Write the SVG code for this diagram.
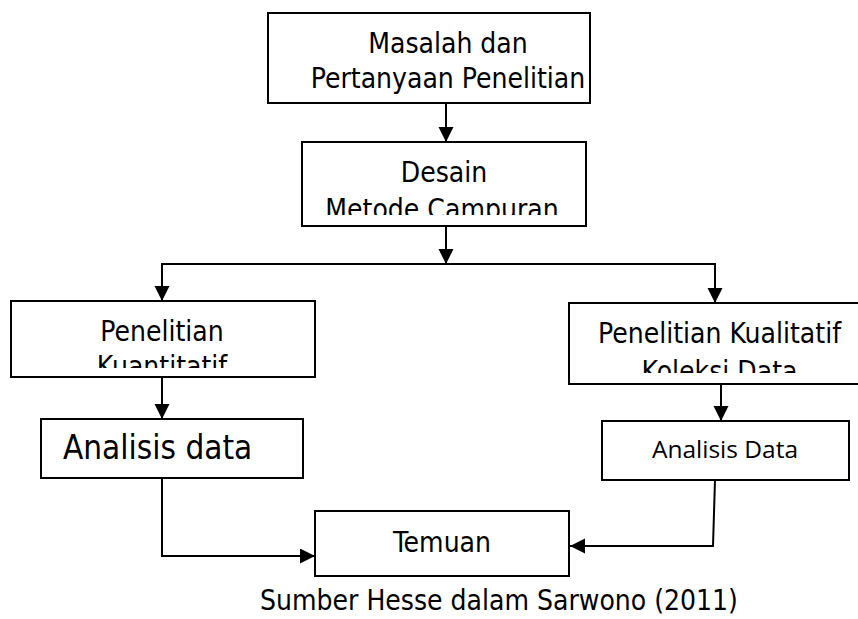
<svg xmlns="http://www.w3.org/2000/svg" width="858" height="619" viewBox="0 0 858 619">
<style>
.box{fill:#fff;stroke:#000;stroke-width:2}
.t{font-family:"DejaVu Sans Condensed","DejaVu Sans",sans-serif;font-stretch:condensed;font-size:28px;fill:#000;text-anchor:middle}
.c{fill:none;stroke:#000;stroke-width:2}
</style>
<defs>
<marker id="ah" markerUnits="userSpaceOnUse" markerWidth="16" markerHeight="16" refX="15" refY="7.5" orient="auto">
<path d="M0,0 L15,7.5 L0,15 z" fill="#000"/>
</marker>
<clipPath id="c2"><rect x="302" y="142" width="284" height="73"/></clipPath>
<clipPath id="c3"><rect x="11" y="301" width="304" height="67"/></clipPath>
<clipPath id="c4"><rect x="569" y="303" width="291" height="70"/></clipPath>
</defs>
<rect width="858" height="619" fill="#fff"/>
<g id="masalah">
<rect class="box" x="268" y="13" width="322" height="90"/>
<text class="t" x="448" y="53">Masalah dan</text>
<text class="t" x="448" y="88">Pertanyaan Penelitian</text>
</g>
<g id="desain">
<rect class="box" x="302" y="142" width="284" height="84"/>
<g clip-path="url(#c2)">
<text class="t" x="444" y="182">Desain</text>
<text class="t" x="442" y="219">Metode Campuran</text>
</g>
</g>
<g id="kuantitatif">
<rect class="box" x="11" y="301" width="304" height="76"/>
<g clip-path="url(#c3)">
<text class="t" x="162" y="341">Penelitian</text>
<text class="t" x="162" y="376">Kuantitatif</text>
</g>
</g>
<g id="kualitatif">
<rect class="box" x="569" y="303" width="292" height="81"/>
<g clip-path="url(#c4)">
<text class="t" x="719.5" y="343">Penelitian Kualitatif</text>
<text class="t" x="719.5" y="381">Koleksi Data</text>
</g>
</g>
<g id="analisis-kiri">
<rect class="box" x="41" y="419" width="262" height="59"/>
<text class="t" x="63" y="459" style="text-anchor:start;font-size:33px">Analisis data</text>
</g>
<g id="analisis-kanan">
<rect class="box" x="602" y="421" width="247" height="59"/>
<text x="725" y="458" style="font-family:'Open Sans',sans-serif;font-size:24.5px;text-anchor:middle;fill:#000">Analisis Data</text>
</g>
<g id="temuan">
<rect class="box" x="315" y="511" width="254" height="65"/>
<text class="t" x="442" y="552">Temuan</text>
</g>
<g id="connectors">
<path class="c" d="M446,103 L446,142" marker-end="url(#ah)"/>
<path class="c" d="M446,226 L446,264" marker-end="url(#ah)"/>
<path class="c" d="M446,264 L162,264 L162,301" marker-end="url(#ah)"/>
<path class="c" d="M446,264 L715,264 L715,303" marker-end="url(#ah)"/>
<path class="c" d="M162,377 L162,419" marker-end="url(#ah)"/>
<path class="c" d="M721,384 L721,421" marker-end="url(#ah)"/>
<path class="c" d="M162,478 L162,556 L315,556" marker-end="url(#ah)"/>
<path class="c" d="M715,480 L713,546 L570,546" marker-end="url(#ah)"/>
</g>
<text class="t" x="499" y="610">Sumber Hesse dalam Sarwono (2011)</text>
</svg>
